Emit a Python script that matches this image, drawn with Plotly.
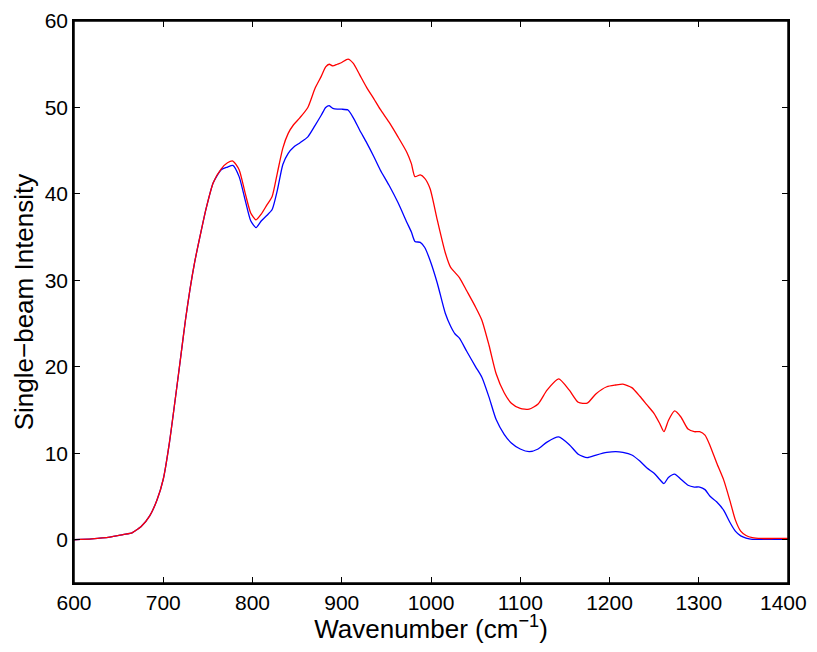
import plotly.graph_objects as go

wavenumber = [600, 620, 640, 655, 665, 668, 675, 685, 693, 700, 707, 715, 720, 725, 730, 735, 741, 748, 756, 765,
              772, 778, 785, 792, 798, 804, 810, 816, 822, 828, 834, 840, 846, 853, 862, 870, 877, 882, 886, 890,
              895, 900, 907, 913, 920, 928, 936, 943, 953, 963, 973, 978, 982, 988, 993, 999, 1007, 1016, 1022, 1027,
              1032, 1040, 1050, 1057, 1065, 1073, 1082, 1090, 1100, 1110, 1120, 1130, 1143, 1155, 1165, 1175, 1185,
              1197, 1207, 1215, 1225, 1234, 1242, 1250, 1256, 1261, 1266, 1273, 1280, 1288, 1295, 1301, 1307, 1313,
              1320, 1328, 1335, 1341, 1347, 1353, 1360, 1370, 1385, 1400]

red_intensity = [0.0, 0.1, 0.3, 0.6, 0.8, 1.0, 1.5, 2.8, 4.6, 7.0, 11.3, 17.5, 21.5, 25.5, 29.0, 32.0, 35.0, 38.3, 41.3, 42.9,
                 43.6, 43.8, 42.8, 40.0, 37.8, 37.0, 37.7, 38.7, 39.7, 42.5, 45.3, 47.0, 48.0, 48.8, 50.0, 52.2, 53.6, 54.7, 55.0, 54.8,
                 55.0, 55.2, 55.6, 55.1, 53.8, 52.3, 51.0, 49.8, 48.3, 46.6, 44.8, 43.5, 42.0, 42.2, 41.8, 40.6, 37.0, 33.2, 31.5, 30.9,
                 30.3, 28.8, 26.9, 25.4, 22.5, 19.2, 17.0, 15.8, 15.2, 15.1, 15.7, 17.3, 18.6, 17.3, 15.9, 15.8, 16.9,
                 17.7, 17.9, 18.0, 17.6, 16.6, 15.6, 14.6, 13.5, 12.5, 13.8, 14.9, 14.2, 12.8, 12.5, 12.5, 12.1, 10.8,
                 8.9, 6.9, 4.5, 2.3, 1.0, 0.5, 0.25, 0.15, 0.15, 0.15]

blue_intensity = [0.0, 0.1, 0.3, 0.6, 0.8, 1.0, 1.5, 2.8, 4.6, 7.0, 11.3, 17.5, 21.5, 25.5, 29.0, 32.0, 35.0, 38.3, 41.3, 42.8,
                  43.1, 43.3, 42.0, 39.2, 36.9, 36.1, 36.9, 37.5, 38.2, 40.5, 43.4, 44.7, 45.4, 45.9, 46.6, 47.9, 49.1, 50.0, 50.2, 49.9,
                  49.8, 49.8, 49.7, 48.8, 47.4, 45.9, 44.3, 42.8, 41.0, 39.0, 36.7, 35.6, 34.5, 34.4, 33.8, 32.3, 29.7, 26.2, 24.7, 23.8,
                  23.3, 21.8, 20.0, 18.8, 16.5, 13.9, 12.2, 11.2, 10.5, 10.2, 10.5, 11.3, 11.9, 11.0, 9.9, 9.5, 9.8,
                  10.1, 10.2, 10.1, 9.8, 9.1, 8.3, 7.7, 7.0, 6.5, 7.2, 7.6, 7.0, 6.3, 6.1, 6.1, 5.8, 5.0,
                  4.4, 3.4, 2.0, 1.0, 0.45, 0.2, 0.05, 0.05, 0.05, 0.05]

x_tick_values = [600, 700, 800, 900, 1000, 1100, 1200, 1300, 1400]
x_tick_labels = ["600", "700", "800", "900", "1000", "1100", "1200", "1300", "1400"]

fig = go.Figure()
fig.add_trace(go.Scatter(x=wavenumber, y=blue_intensity, mode="lines",
                         line=dict(color="#0000ff", width=1.3, shape="spline", smoothing=0.6),
                         showlegend=False))
fig.add_trace(go.Scatter(x=wavenumber, y=red_intensity, mode="lines",
                         line=dict(color="#ff0000", width=1.3, shape="spline", smoothing=0.6),
                         showlegend=False))

tick_font = dict(family="Liberation Sans, Arial, sans-serif", size=21, color="black")
title_font = dict(family="Liberation Sans, Arial, sans-serif", size=26, color="black")

# last x tick label is drawn as an annotation, right-aligned so it stays inside the page
shown_labels = x_tick_labels[:-1] + [""]

fig.update_layout(
    width=801, height=636,
    margin=dict(l=66, r=21, t=13, b=61, autoexpand=False),
    paper_bgcolor="white", plot_bgcolor="white",
    font=tick_font,
    xaxis=dict(range=[600, 1400], tickmode="array", tickvals=x_tick_values, ticktext=shown_labels,
               ticks="inside", ticklen=6, tickcolor="black", tickwidth=1,
               showline=True, linecolor="black", linewidth=1.5, mirror="ticks",
               showgrid=False, zeroline=False, tickfont=tick_font, automargin=False,
               ticklabeloverflow="allow",
               title=dict(text="Wavenumber (cm<sup>−1</sup>)", standoff=1, font=title_font)),
    yaxis=dict(range=[-5, 60], tickmode="linear", tick0=0, dtick=10,
               ticks="inside", ticklen=6, tickcolor="black", tickwidth=1,
               showline=True, linecolor="black", linewidth=1.5, mirror="ticks",
               showgrid=False, zeroline=False, tickfont=tick_font, automargin=False,
               ticklabeloverflow="allow",
               title=dict(text="Single−beam Intensity", standoff=4, font=title_font)),
    shapes=[dict(type="rect", xref="paper", yref="paper", x0=0, x1=1, y0=0, y1=1,
                 line=dict(color="black", width=1.5), fillcolor="rgba(0,0,0,0)", layer="above")],
    annotations=[dict(x=x_tick_values[-1], y=0, xref="x", yref="paper", text=x_tick_labels[-1],
                      showarrow=False, xanchor="right", yanchor="top", xshift=21, yshift=-6,
                      font=tick_font)],
)

fig.write_html("out.html")
